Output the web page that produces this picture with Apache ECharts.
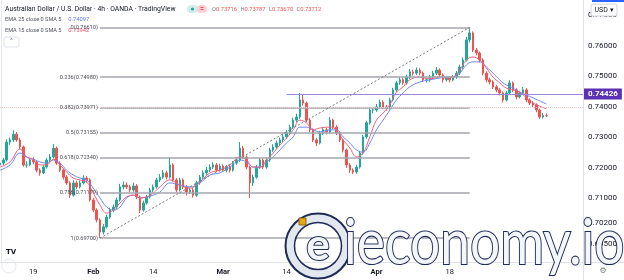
<!DOCTYPE html>
<html><head><meta charset="utf-8">
<script src="https://cdn.jsdelivr.net/npm/echarts@6/dist/echarts.min.js"></script>
<style>html,body{margin:0;padding:0;background:#fff}#c{width:624px;height:280px}</style>
</head><body><div id="c"></div><script>
// ---- data (AUD/USD, 4h) ----
const opens = [0.7210,0.7216,0.7226,0.7285,0.7292,0.7311,0.7292,0.7269,0.7210,0.7210,
0.7226,0.7220,0.7193,0.7184,0.7203,0.7226,0.7236,0.7265,0.7216,0.7193,
0.7170,0.7151,0.7111,0.7151,0.7138,0.7151,0.7167,0.7161,0.7095,0.7062,
0.7030,0.6990,0.7007,0.7039,0.7062,0.7072,0.7095,0.7138,0.7144,0.7138,
0.7128,0.7141,0.7105,0.7062,0.7085,0.7105,0.7128,0.7138,0.7161,0.7170,
0.7184,0.7170,0.7210,0.7161,0.7128,0.7161,0.7138,0.7121,0.7128,0.7111,
0.7151,0.7170,0.7184,0.7193,0.7203,0.7210,0.7193,0.7206,0.7193,0.7203,
0.7193,0.7216,0.7226,0.7265,0.7236,0.7203,0.7151,0.7170,0.7203,0.7226,
0.7203,0.7226,0.7259,0.7269,0.7282,0.7292,0.7302,0.7315,0.7334,0.7357,
0.7367,0.7423,0.7413,0.7357,0.7325,0.7292,0.7282,0.7315,0.7325,0.7318,
0.7357,0.7334,0.7315,0.7292,0.7259,0.7210,0.7193,0.7187,0.7203,0.7249,
0.7302,0.7348,0.7390,0.7390,0.7400,0.7416,0.7400,0.7397,0.7423,0.7456,
0.7479,0.7489,0.7479,0.7498,0.7515,0.7511,0.7521,0.7511,0.7489,0.7489,
0.7498,0.7511,0.7521,0.7505,0.7489,0.7495,0.7489,0.7498,0.7511,0.7531,
0.7554,0.7620,0.7643,0.7587,0.7577,0.7554,0.7511,0.7489,0.7482,0.7466,
0.7456,0.7446,0.7423,0.7446,0.7479,0.7456,0.7433,0.7446,0.7456,0.7423,
0.7413,0.7407,0.7390,0.7367,0.73716];
const closes = [0.7216,0.7226,0.7285,0.7292,0.7311,0.7292,0.7269,0.7210,0.7210,0.7226,
0.7220,0.7193,0.7184,0.7203,0.7226,0.7236,0.7265,0.7216,0.7193,0.7170,
0.7151,0.7111,0.7151,0.7138,0.7151,0.7167,0.7161,0.7095,0.7062,0.7030,
0.6990,0.7007,0.7039,0.7062,0.7072,0.7095,0.7138,0.7144,0.7138,0.7128,
0.7141,0.7105,0.7062,0.7085,0.7105,0.7128,0.7138,0.7161,0.7170,0.7184,
0.7170,0.7210,0.7161,0.7128,0.7161,0.7138,0.7121,0.7128,0.7111,0.7151,
0.7170,0.7184,0.7193,0.7203,0.7210,0.7193,0.7206,0.7193,0.7203,0.7193,
0.7216,0.7226,0.7265,0.7236,0.7203,0.7151,0.7170,0.7203,0.7226,0.7203,
0.7226,0.7259,0.7269,0.7282,0.7292,0.7302,0.7315,0.7334,0.7357,0.7367,
0.7423,0.7413,0.7357,0.7325,0.7292,0.7282,0.7315,0.7325,0.7318,0.7357,
0.7334,0.7315,0.7292,0.7259,0.7210,0.7193,0.7187,0.7203,0.7249,0.7302,
0.7348,0.7390,0.7390,0.7400,0.7416,0.7400,0.7397,0.7423,0.7456,0.7479,
0.7489,0.7479,0.7498,0.7515,0.7511,0.7521,0.7511,0.7489,0.7489,0.7498,
0.7511,0.7521,0.7505,0.7489,0.7495,0.7489,0.7498,0.7511,0.7531,0.7554,
0.7620,0.7643,0.7587,0.7577,0.7554,0.7511,0.7489,0.7482,0.7466,0.7456,
0.7446,0.7423,0.7446,0.7479,0.7456,0.7433,0.7446,0.7456,0.7423,0.7413,
0.7407,0.7390,0.7367,0.7372,0.73712];
const lows = [0.7201,0.7209,0.7221,0.7276,0.7285,0.7286,0.7262,0.7204,0.7201,0.7206,
0.7212,0.7186,0.7175,0.7180,0.7198,0.7220,0.7231,0.7210,0.7187,0.7162,
0.7145,0.7102,0.7106,0.7132,0.7133,0.7146,0.7152,0.7090,0.7055,0.7022,
0.6970,0.6982,0.7002,0.7033,0.7055,0.7066,0.7090,0.7130,0.7131,0.7120,
0.7122,0.7098,0.7052,0.7057,0.7080,0.7100,0.7121,0.7132,0.7154,0.7164,
0.7163,0.7165,0.7155,0.7120,0.7123,0.7131,0.7110,0.7115,0.7103,0.7106,
0.7145,0.7164,0.7178,0.7187,0.7196,0.7186,0.7188,0.7187,0.7186,0.7185,
0.7188,0.7210,0.7220,0.7229,0.7196,0.7102,0.7141,0.7165,0.7197,0.7196,
0.7198,0.7220,0.7252,0.7262,0.7275,0.7285,0.7296,0.7309,0.7328,0.7350,
0.7361,0.7405,0.7350,0.7318,0.7285,0.7272,0.7277,0.7308,0.7310,0.7313,
0.7327,0.7308,0.7285,0.7251,0.7200,0.7184,0.7180,0.7181,0.7198,0.7244,
0.7296,0.7342,0.7380,0.7384,0.7394,0.7393,0.7388,0.7391,0.7418,0.7450,
0.7473,0.7472,0.7473,0.7492,0.7503,0.7505,0.7504,0.7482,0.7480,0.7483,
0.7492,0.7505,0.7497,0.7480,0.7483,0.7481,0.7484,0.7492,0.7505,0.7525,
0.7549,0.7612,0.7580,0.7569,0.7546,0.7504,0.7481,0.7474,0.7459,0.7449,
0.7438,0.7415,0.7418,0.7440,0.7449,0.7425,0.7428,0.7440,0.7416,0.7406,
0.7399,0.7383,0.7361,0.7362,0.73670];
const highs = [0.7224,0.7233,0.7294,0.7300,0.7323,0.7318,0.7299,0.7274,0.7222,0.7232,
0.7235,0.7224,0.7199,0.7210,0.7233,0.7246,0.7279,0.7270,0.7222,0.7198,
0.7176,0.7157,0.7160,0.7158,0.7159,0.7176,0.7174,0.7166,0.7101,0.7068,
0.7035,0.7016,0.7047,0.7070,0.7080,0.7103,0.7148,0.7156,0.7153,0.7145,
0.7152,0.7147,0.7110,0.7093,0.7112,0.7135,0.7146,0.7168,0.7180,0.7193,
0.7191,0.7236,0.7216,0.7167,0.7168,0.7166,0.7144,0.7136,0.7134,0.7158,
0.7177,0.7192,0.7203,0.7212,0.7219,0.7216,0.7214,0.7212,0.7210,0.7209,
0.7223,0.7235,0.7285,0.7272,0.7241,0.7208,0.7178,0.7210,0.7233,0.7231,
0.7234,0.7266,0.7278,0.7290,0.7300,0.7311,0.7324,0.7342,0.7365,0.7378,
0.7446,0.7440,0.7418,0.7362,0.7330,0.7299,0.7322,0.7333,0.7331,0.7367,
0.7362,0.7340,0.7320,0.7297,0.7264,0.7216,0.7199,0.7210,0.7256,0.7309,
0.7355,0.7398,0.7399,0.7410,0.7424,0.7422,0.7407,0.7430,0.7463,0.7486,
0.7498,0.7496,0.7506,0.7524,0.7522,0.7530,0.7527,0.7516,0.7497,0.7505,
0.7519,0.7531,0.7527,0.7510,0.7502,0.7501,0.7505,0.7518,0.7539,0.7562,
0.7630,0.7661,0.7648,0.7594,0.7582,0.7560,0.7517,0.7496,0.7488,0.7472,
0.7462,0.7451,0.7453,0.7488,0.7484,0.7461,0.7453,0.7466,0.7462,0.7428,
0.7419,0.7412,0.7395,0.7380,0.73787];

// EMA lines, read at sampled bars: [barIndex, value]
const ema25 = [[0,0.7193],[3,0.7210],[6,0.7249],[8,0.7236],[10,0.7229],[12,0.7220],[14,0.7216],[16,0.7226],[18,0.7216],[20,0.7193],[22,0.7177],[24,0.7167],[26,0.7161],[28,0.7134],[30,0.7102],[32,0.7072],[34,0.7062],[36,0.7072],[38,0.7102],[40,0.7111],[42,0.7102],[44,0.7105],[46,0.7111],[48,0.7121],[51,0.7151],[54,0.7144],[57,0.7138],[60,0.7151],[63,0.7177],[66,0.7184],[69,0.7203],[72,0.7226],[74,0.7220],[76,0.7203],[78,0.7203],[80,0.7220],[82,0.7236],[84,0.7259],[86,0.7282],[88,0.7302],[90,0.7334],[92,0.7334],[94,0.7325],[96,0.7318],[99,0.7325],[101,0.7325],[103,0.7302],[105,0.7282],[107,0.7259],[109,0.7252],[111,0.7282],[113,0.7325],[115,0.7357],[117,0.7390],[119,0.7423],[121,0.7446],[123,0.7466],[126,0.7482],[129,0.7489],[132,0.7495],[134,0.7498],[136,0.7498],[138,0.7511],[140,0.7538],[142,0.7548],[144,0.7548],[146,0.7531],[148,0.7511],[150,0.7489],[152,0.7472],[154,0.7462],[156,0.7449],[158,0.7439],[160,0.7430],[164,0.74097]];
const ema15 = [[0,0.7203],[3,0.7220],[6,0.7262],[8,0.7236],[10,0.7226],[12,0.7210],[14,0.7210],[16,0.7229],[18,0.7210],[20,0.7187],[22,0.7167],[24,0.7161],[26,0.7154],[28,0.7118],[30,0.7079],[32,0.7052],[34,0.7062],[36,0.7085],[38,0.7105],[40,0.7111],[42,0.7102],[44,0.7105],[46,0.7118],[48,0.7138],[51,0.7161],[54,0.7144],[57,0.7134],[60,0.7154],[63,0.7184],[66,0.7193],[69,0.7210],[72,0.7236],[74,0.7226],[76,0.7203],[78,0.7203],[80,0.7226],[82,0.7249],[84,0.7275],[86,0.7298],[88,0.7325],[90,0.7357],[92,0.7348],[94,0.7325],[96,0.7331],[99,0.7334],[101,0.7325],[103,0.7292],[105,0.7266],[107,0.7236],[109,0.7249],[111,0.7302],[113,0.7357],[115,0.7380],[117,0.7407],[119,0.7449],[121,0.7466],[123,0.7489],[126,0.7498],[129,0.7492],[132,0.7498],[134,0.7495],[136,0.7498],[138,0.7521],[140,0.7554],[142,0.7564],[144,0.7554],[146,0.7528],[148,0.7498],[150,0.7479],[152,0.7462],[154,0.7456],[156,0.7449],[158,0.7430],[160,0.7413],[164,0.73942]];

const xTickIndex = [10, 28, 46, 67, 86, 100, 113, 135];
const xTickLabels = ['19', 'Feb', '14', 'Mar', '14', '23', 'Apr', '18'];
const monthLabels = ['Feb', 'Mar', 'Apr'];
const yTicks = [0.77, 0.76, 0.75, 0.74, 0.73, 0.72, 0.71, 0.702, 0.695];

const fibRatios = ['0', '0.236', '0.382', '0.5', '0.618', '0.786', '1'];
const fibLevels = [0.76610, 0.74980, 0.73971, 0.73155, 0.72340, 0.71179, 0.69700];
const fibStart = 30, fibEnd = 141;
const alertLevel = 0.74426, alertStart = 86;
const lastOHLC = {o: '0.73716', h: '0.73787', l: '0.73670', c: '0.73712'};
const lastPrice = 0.73712;
const emaLast = {e25: '0.74097', e15: '0.73942'};
const totalSlots = 176;

// ---- build ----
const cats = Array.from({length: totalSlots}, (_, i) => 'c' + i);
const ohlc = opens.map((o, i) => [o, closes[i], lows[i], highs[i]]);
const tickMap = {};
xTickIndex.forEach((ix, k) => tickMap[ix] = xTickLabels[k]);

const FONT = 'Roboto, "Noto Sans", sans-serif';
const fibLine = {color: '#a3a6ad', width: 1.6, type: 'solid'};
const markData = fibRatios.map((r, k) => [
  {coord: [cats[fibStart], fibLevels[k]], name: r + '(' + fibLevels[k].toFixed(5) + ')',
   lineStyle: fibLine,
   label: {show: true, position: 'start', distance: 2, formatter: '{b}', fontSize: 5.6, color: '#4a4d55', fontFamily: FONT}},
  {coord: [cats[fibEnd], fibLevels[k]]}
]);
markData.push([
  {coord: [cats[fibStart], fibLevels[6]], lineStyle: {color: '#7a7d85', width: 1, type: [2, 2]}, label: {show: false}},
  {coord: [cats[fibEnd], fibLevels[0]]}
]);
markData.push([
  {coord: [cats[alertStart], alertLevel], name: alertLevel.toFixed(5),
   lineStyle: {color: '#9f86d8', width: 1, type: 'solid'},
   label: {show: true, position: 'end', distance: 1, formatter: '{b}', color: '#fff', fontSize: 8, fontWeight: 'bold',
     backgroundColor: '#5b32b4', padding: [2, 4, 1, 4], fontFamily: FONT}},
  {coord: [cats[totalSlots - 1], alertLevel]}
]);
markData.push({yAxis: lastPrice, lineStyle: {color: '#f6c9c9', width: 1, type: [1, 1]}, label: {show: false}});

const chart = echarts.init(document.getElementById('c'), null, {renderer: 'canvas'});
chart.setOption({
  animation: false,
  backgroundColor: '#ffffff',
  grid: {left: 0, right: 41, top: 0, bottom: 18, containLabel: false},
  xAxis: {
    type: 'category', data: cats, boundaryGap: false,
    axisLine: {show: true, lineStyle: {color: '#e0e3eb'}},
    axisTick: {show: false}, splitLine: {show: false},
    axisLabel: {
      interval: (i) => tickMap[i] !== undefined,
      formatter: (v, i) => { const t = tickMap[i] || ''; return monthLabels.includes(t) ? '{b|' + t + '}' : t; },
      color: '#131722', fontSize: 7.5, margin: 6, fontFamily: FONT,
      rich: {b: {fontWeight: 'bold', fontSize: 7.5, color: '#131722', fontFamily: FONT}}
    }
  },
  yAxis: {
    type: 'value', position: 'right', min: 0.68918, max: 0.77508, scale: true,
    splitLine: {show: false}, axisTick: {show: false},
    axisLine: {show: true, lineStyle: {color: '#e0e3eb'}},
    axisLabel: {customValues: yTicks, formatter: (v) => v.toFixed(5), color: '#131722', fontSize: 8, margin: 5, fontFamily: FONT}
  },
  series: [
    {
      type: 'candlestick', data: ohlc, barWidth: 2,
      itemStyle: {color: '#26a69a', color0: '#ef5350', borderColor: '#26a69a', borderColor0: '#ef5350', borderWidth: 1},
      markLine: {silent: true, symbol: ['none', 'none'], animation: false, data: markData},
      z: 3
    },
    {type: 'line', data: ema25, smooth: 0.4, showSymbol: false, lineStyle: {color: '#6d89f3', width: 1}, z: 4},
    {type: 'line', data: ema15, smooth: 0.4, showSymbol: false, lineStyle: {color: '#f0607e', width: 1}, z: 4}
  ],
  graphic: [
    {type: 'rect', shape: {x: 592, y: 0, width: 32, height: 2}, style: {fill: '#2962ff'}, z: 20},
    {type: 'line', shape: {x1: 583, y1: 262.5, x2: 624, y2: 262.5}, style: {stroke: '#e0e3eb', lineWidth: 1}},
    {type: 'line', shape: {x1: 583.5, y1: 262, x2: 583.5, y2: 280}, style: {stroke: '#e0e3eb', lineWidth: 1}},
    {type: 'line', shape: {x1: 1.5, y1: 0, x2: 1.5, y2: 262}, style: {stroke: '#e6e9f0', lineWidth: 1}},
    {type: 'text', x: 5, y: 9, style: {text: 'Australian Dollar / U.S. Dollar · 4h · OANDA · TradingView', font: '6.8px ' + FONT, fill: '#131722', verticalAlign: 'middle'}},
    {type: 'rect', shape: {x: 187, y: 5, width: 11, height: 8, r: 4}, style: {fill: '#d3efe9'}},
    {type: 'circle', shape: {cx: 192.5, cy: 9, r: 1.6}, style: {fill: '#26a69a'}},
    {type: 'rect', shape: {x: 197, y: 5, width: 10, height: 8, r: 4}, style: {fill: '#fbd0da'}},
    {type: 'text', x: 202, y: 9, style: {text: '=', font: 'bold 7px ' + FONT, fill: '#ef5350', align: 'center', verticalAlign: 'middle'}},
    {type: 'text', x: 212, y: 9.5, style: {
      text: '{l|O}{v|' + lastOHLC.o + '} {l|H}{v|' + lastOHLC.h + '} {l|L}{v|' + lastOHLC.l + '} {l|C}{v|' + lastOHLC.c + '}',
      verticalAlign: 'middle',
      rich: {l: {fill: '#787b86', font: '5.8px ' + FONT}, v: {fill: '#ef5350', font: '5.8px ' + FONT}}}},
    {type: 'text', x: 5, y: 20, style: {text: '{l|EMA 25 close 0 SMA 5}  {v|' + emaLast.e25 + '}', verticalAlign: 'middle',
      rich: {l: {fill: '#50535e', font: '5.6px ' + FONT}, v: {fill: '#5a78f0', font: '5.8px ' + FONT}}}},
    {type: 'text', x: 5, y: 31, style: {text: '{l|EMA 15 close 0 SMA 5}  {v|' + emaLast.e15 + '}', verticalAlign: 'middle',
      rich: {l: {fill: '#50535e', font: '5.6px ' + FONT}, v: {fill: '#f04a6e', font: '5.8px ' + FONT}}}},
    {type: 'rect', shape: {x: 4, y: 37, width: 15, height: 10, r: 2}, style: {fill: '#fff', stroke: '#e0e3eb', lineWidth: 1}},
    {type: 'text', x: 11.5, y: 43, style: {text: '˄', font: '8px ' + FONT, fill: '#131722', align: 'center', verticalAlign: 'middle'}},
    {type: 'rect', shape: {x: 591, y: 4, width: 26, height: 12, r: 2}, style: {fill: '#fff', stroke: '#d1d4dc', lineWidth: 1}, z: 20},
    {type: 'text', x: 604, y: 10, style: {text: 'USD ▾', font: '7px ' + FONT, fill: '#131722', align: 'center', verticalAlign: 'middle'}, z: 21},
    {type: 'text', x: 603, y: 271, style: {text: '⚙', font: '8px "DejaVu Sans"', fill: '#787b86', align: 'center', verticalAlign: 'middle'}},
    {type: 'text', x: 6, y: 252, style: {text: 'TV', font: 'bold 7px "DejaVu Sans"', fill: '#131722', verticalAlign: 'middle'}},
    {type: 'circle', shape: {cx: 9, cy: 266, r: 7}, style: {fill: 'none', stroke: '#e6e9f0', lineWidth: 1}},
    // watermark
    {type: 'circle', shape: {cx: 318, cy: 246, r: 28}, style: {fill: 'none', stroke: '#e3e8ef', lineWidth: 8}, z: 50},
    {type: 'circle', shape: {cx: 318, cy: 246, r: 32.5}, style: {fill: 'none', stroke: '#1d2b57', lineWidth: 2}, z: 51},
    {type: 'circle', shape: {cx: 318, cy: 246, r: 23.5}, style: {fill: 'none', stroke: '#1d2b57', lineWidth: 1.5}, z: 51},
    {type: 'text', x: 318, y: 246, style: {text: 'e', font: 'bold 44px Lato', fill: '#f2f4f8', stroke: '#1d2b57', lineWidth: 2, align: 'center', verticalAlign: 'middle'}, z: 52},
    {type: 'rect', shape: {x: 299, y: 218, width: 7, height: 7}, style: {fill: '#e6a817', stroke: '#7a5000', lineWidth: 0.8}, z: 52},
    {type: 'text', x: 344, y: 244, scaleX: 0.86, style: {text: 'ieconomy.io', font: '400 62px Lato', fill: '#f4f6f9', stroke: '#1d2b57', lineWidth: 2.2, verticalAlign: 'middle'}, z: 52}
  ]
});
</script></body></html>
